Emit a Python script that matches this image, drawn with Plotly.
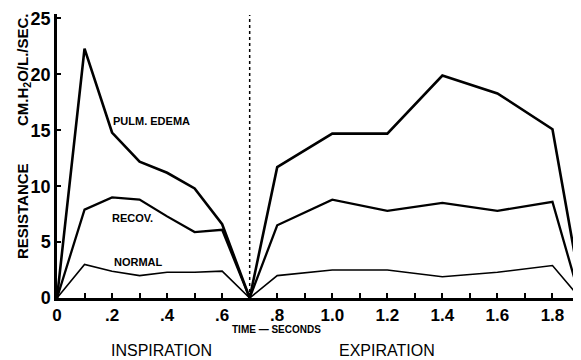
import plotly.graph_objects as go

time_s = [0, 0.1, 0.2, 0.3, 0.4, 0.5, 0.6, 0.7, 0.8, 1.0, 1.2, 1.4, 1.6, 1.8, 1.9]
pulm_edema = [0, 22.3, 14.8, 12.2, 11.2, 9.8, 6.6, 0, 11.7, 14.7, 14.7, 19.9, 18.3, 15.1, 1.2]
recov = [0, 7.9, 9.0, 8.8, 7.3, 5.9, 6.1, 0, 6.5, 8.8, 7.8, 8.5, 7.8, 8.6, 0]
normal = [0, 3.0, 2.4, 2.0, 2.3, 2.3, 2.4, 0, 2.0, 2.5, 2.5, 1.9, 2.3, 2.9, 0]

x_tickvals = [0, 0.2, 0.4, 0.6, 0.8, 1.0, 1.2, 1.4, 1.6, 1.8]
x_ticktext = ["0", ".2", ".4", ".6", ".8", "1.0", "1.2", "1.4", "1.6", "1.8"]
y_tickvals = [0, 5, 10, 15, 20, 25]
divider_x = [0.7, 0.7]
divider_y = [0, 25.3]

FONT = "Liberation Sans"
OFF = 8  # page body margin
W, H = 581 - OFF, 360 - OFF
# plot area in page pixels: x 57..580, y 14..298
L, R, T, B = 57 - OFF, 1, 14 - OFF, 360 - 298

fig = go.Figure()
for ys, w in [(pulm_edema, 2.6), (recov, 2.3), (normal, 1.6)]:
    fig.add_trace(go.Scatter(x=time_s, y=ys, mode="lines",
                             line=dict(color="black", width=w),
                             cliponaxis=False, showlegend=False))
fig.add_trace(go.Scatter(x=divider_x, y=divider_y, mode="lines",
                         line=dict(color="black", width=1.5, dash="dot"),
                         cliponaxis=False, showlegend=False))

fig.update_layout(
    template="none",
    width=W, height=H,
    margin=dict(l=L, r=R, t=T, b=B, autoexpand=False),
    paper_bgcolor="white", plot_bgcolor="white",
    font=dict(family=FONT, color="black"),
    xaxis=dict(range=[0, 1.9], tickvals=x_tickvals, ticktext=x_ticktext,
               automargin=False,
               ticks="inside", ticklen=5, tickwidth=1.5, tickcolor="black",
               minor=dict(dtick=0.1, ticks="inside", ticklen=5, tickwidth=1.5, tickcolor="black"),
               showline=True, linecolor="black", linewidth=2.5,
               showgrid=False, zeroline=False,
               tickfont=dict(size=17, family=FONT, color="black", weight="bold")),
    yaxis=dict(range=[0, 25.4], tickvals=y_tickvals,
               automargin=False,
               ticks="inside", ticklen=4, tickwidth=1.5, tickcolor="black",
               showline=True, linecolor="black", linewidth=2.5,
               showgrid=False, zeroline=False,
               tickfont=dict(size=18, family=FONT, color="black", weight="bold")),
)

def ann(text, x, y, size, xref="x", yref="y", angle=0, bold=True):
    fig.add_annotation(text=f"<b>{text}</b>" if bold else text, x=x, y=y, xref=xref, yref=yref,
                       showarrow=False, textangle=angle, xanchor="center", yanchor="middle",
                       font=dict(size=size, family=FONT, color="black"))

ann("PULM. EDEMA", 0.345, 15.8, 11)
ann("RECOV.", 0.273, 7.2, 11)
ann("NORMAL", 0.295, 3.2, 11)

def px(xp, yp):
    # page pixel -> paper coords of the plot area
    return (xp - 57) / (580 - 57), (298 - yp) / (298 - 14)

x, y = px(276, 329)
ann("TIME — SECONDS", x, y, 10, "paper", "paper")
x, y = px(161, 350)
ann("INSPIRATION", x, y, 16, "paper", "paper", bold=False)
x, y = px(387, 350)
ann("EXPIRATION", x, y, 16, "paper", "paper", bold=False)
x, y = px(22, 211)
ann("RESISTANCE", x, y, 15, "paper", "paper", angle=-90)
x, y = px(24, 70)
ann("CM.H<sub>2</sub>O/L./SEC.", x, y, 15, "paper", "paper", angle=-90)

fig.write_html("out.html")
